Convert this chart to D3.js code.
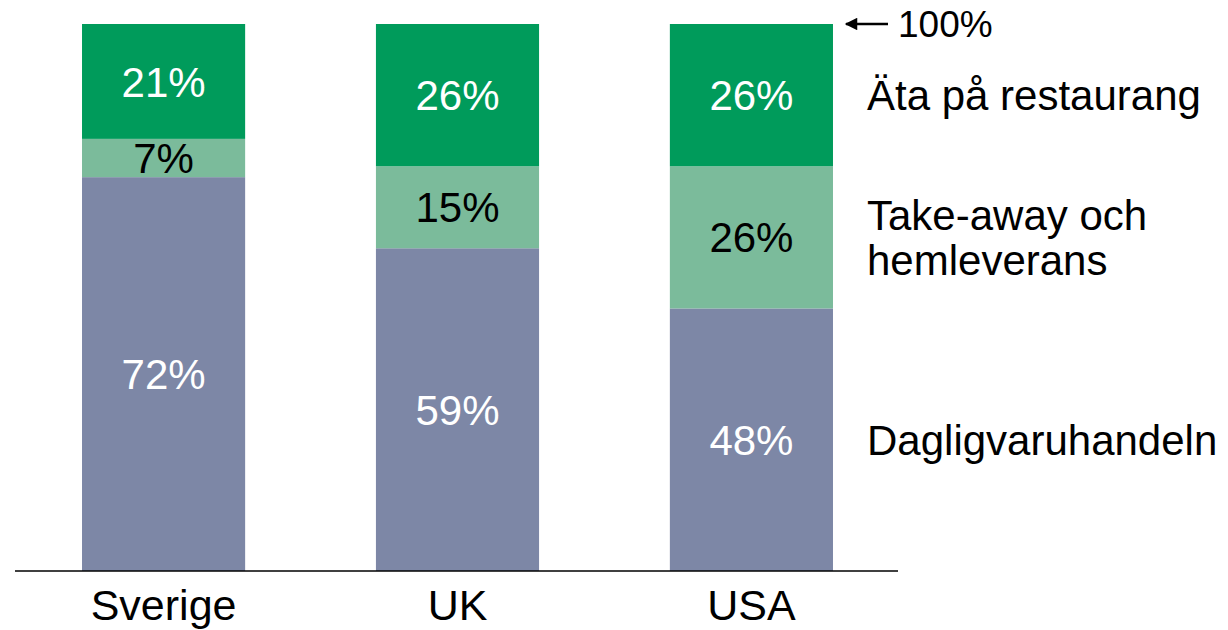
<!DOCTYPE html>
<html>
<head>
<meta charset="utf-8">
<script src="https://cdn.jsdelivr.net/npm/d3@7"></script>
<style>
  body { margin: 0; background: #fff; }
  text { font-family: "Liberation Sans", Arial, sans-serif; }
</style>
</head>
<body>
<svg id="chart" width="1228" height="630"></svg>
<script>
// data
const countries = ["Sverige", "UK", "USA"];
const series = ["Dagligvaruhandeln", "Take-away och hemleverans", "Äta på restaurang"];
const grocery = [72, 59, 48];
const takeaway = [7, 15, 26];
const restaurant = [21, 26, 26];
const legendLines = [["Dagligvaruhandeln"], ["Take-away och", "hemleverans"], ["Äta på restaurang"]];

const colors = ["#7d87a6", "#7bbb9b", "#009b5b"];
const labelColors = ["#fff", "#000", "#fff"];

const svg = d3.select("#chart");

const x = d3.scaleBand().domain(countries).range([15, 900]).paddingInner(0.445).paddingOuter(0.228);
const y = d3.scaleLinear().domain([0, 100]).range([571, 24]);

const rows = countries.map((c, i) => ({
  country: c,
  [series[0]]: grocery[i],
  [series[1]]: takeaway[i],
  [series[2]]: restaurant[i]
}));
const stacked = d3.stack().keys(series)(rows);

const layer = svg.selectAll("g.layer")
  .data(stacked)
  .join("g")
  .attr("class", "layer");

layer.selectAll("rect")
  .data((d, k) => d.map(p => ({ p, k })))
  .join("rect")
  .attr("x", d => x(d.p.data.country))
  .attr("width", x.bandwidth())
  .attr("y", d => y(d.p[1]))
  .attr("height", d => y(d.p[0]) - y(d.p[1]))
  .attr("fill", d => colors[d.k]);

layer.selectAll("text")
  .data((d, k) => d.map(p => ({ p, k })))
  .join("text")
  .attr("x", d => x(d.p.data.country) + x.bandwidth() / 2)
  .attr("y", d => (y(d.p[0]) + y(d.p[1])) / 2)
  .attr("dy", "0.36em")
  .attr("text-anchor", "middle")
  .attr("font-size", 42)
  .attr("fill", d => labelColors[d.k])
  .text(d => (d.p[1] - d.p[0]) + "%");

// baseline axis
const axis = svg.append("g")
  .attr("transform", `translate(0,${y(0)})`)
  .call(d3.axisBottom(x).tickSize(0).tickPadding(18));
axis.select(".domain").attr("stroke", "#000").attr("stroke-width", 1.5)
  .attr("d", "M15,0H898");
axis.selectAll("text")
  .attr("font-size", 43)
  .attr("fill", "#000")
  .style("font-family", '"Liberation Sans", Arial, sans-serif');

// legend on the right, centred on the last bar's segments
const last = countries.length - 1;
const lx = 867;
stacked.forEach((s, k) => {
  const mid = (y(s[last][0]) + y(s[last][1])) / 2;
  const lines = legendLines[k];
  const lh = 45;
  const t = svg.append("text")
    .attr("x", lx)
    .attr("font-size", 42)
    .attr("fill", "#000");
  lines.forEach((ln, j) => {
    t.append("tspan")
      .attr("x", lx)
      .attr("y", mid + (j - (lines.length - 1) / 2) * lh)
      .attr("dy", "0.36em")
      .text(ln);
  });
});

// 100% marker
svg.append("defs").append("marker")
  .attr("id", "arrow")
  .attr("viewBox", "0 0 10 10")
  .attr("refX", 1).attr("refY", 5)
  .attr("markerWidth", 6).attr("markerHeight", 5)
  .attr("markerUnits", "strokeWidth")
  .attr("orient", "auto")
  .append("path")
  .attr("d", "M0,5 L10,0 L10,10 Z")
  .attr("fill", "#000");

svg.append("line")
  .attr("x1", 846).attr("x2", 888)
  .attr("y1", y(100)).attr("y2", y(100))
  .attr("stroke", "#000").attr("stroke-width", 2.5)
  .attr("marker-start", "url(#arrow)");

svg.append("text")
  .attr("x", 898)
  .attr("y", y(100))
  .attr("dy", "0.36em")
  .attr("font-size", 37)
  .text("100%");
</script>
</body>
</html>
